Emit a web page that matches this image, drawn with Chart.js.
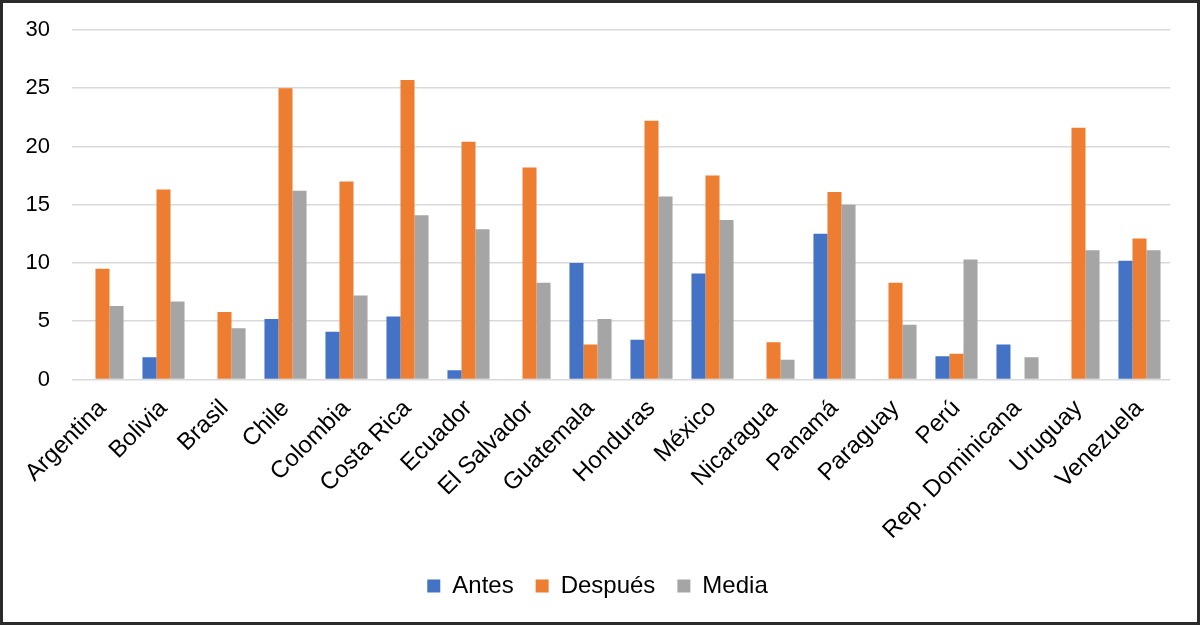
<!DOCTYPE html>
<html>
<head>
<meta charset="utf-8">
<script src="https://cdn.jsdelivr.net/npm/chart.js@4/dist/chart.umd.min.js"></script>
<style>
  html, body { margin: 0; padding: 0; background: #fff; }
  #wrap {
    width: 1200px; height: 625px; box-sizing: border-box;
    border: 3px solid #2b2b2b; background: #fff; position: relative;
  }
  canvas { display: block; }
</style>
</head>
<body>
<div id="wrap"><canvas id="c" width="1194" height="619"></canvas></div>
<script>
// ── DATA ──────────────────────────────────────────────────────
const countries = [
  'Argentina', 'Bolivia', 'Brasil', 'Chile', 'Colombia', 'Costa Rica',
  'Ecuador', 'El Salvador', 'Guatemala', 'Honduras', 'México', 'Nicaragua',
  'Panamá', 'Paraguay', 'Perú', 'Rep. Dominicana', 'Uruguay', 'Venezuela'
];
const antes   = [0, 1.9, 0, 5.2, 4.1, 5.4, 0.8, 0, 10.0, 3.4, 9.1, 0, 12.5, 0, 2.0, 3.0, 0, 10.2];
const despues = [9.5, 16.3, 5.8, 25.0, 17.0, 25.7, 20.4, 18.2, 3.0, 22.2, 17.5, 3.2, 16.1, 8.3, 2.2, 0, 21.6, 12.1];
const media   = [6.3, 6.7, 4.4, 16.2, 7.2, 14.1, 12.9, 8.3, 5.2, 15.7, 13.7, 1.7, 15.0, 4.7, 10.3, 1.9, 11.1, 11.1];
const yTicks  = [0, 5, 10, 15, 20, 25, 30];

// ── STYLE ─────────────────────────────────────────────────────
const font = 'Liberation Sans, Arial, sans-serif';
const gridColor = '#d9d9d9';
const textColor = '#000';
const barOpts = { barPercentage: 1.0, categoryPercentage: 0.69, borderWidth: 0 };

new Chart(document.getElementById('c'), {
  type: 'bar',
  data: {
    labels: countries,
    datasets: [
      { label: 'Antes',   data: antes,   backgroundColor: '#4472c4', ...barOpts },
      { label: 'Después', data: despues, backgroundColor: '#ed7d31', ...barOpts },
      { label: 'Media',   data: media,   backgroundColor: '#a5a5a5', ...barOpts }
    ]
  },
  options: {
    responsive: false,
    animation: false,
    layout: { padding: { left: 22, right: 27, top: 0, bottom: 14 } },
    plugins: {
      tooltip: { enabled: false },
      legend: {
        position: 'bottom',
        labels: {
          color: textColor,
          font: { family: font, size: 24 },
          boxWidth: 13, boxHeight: 13,
          padding: 22
        }
      }
    },
    scales: {
      x: {
        grid: { display: false },
        border: { display: false },
        // rotated first label should not push the plot area right
        afterFit: s => { s.paddingLeft = 0; s.paddingRight = 0; },
        ticks: {
          color: textColor,
          font: { family: font, size: 24 },
          minRotation: 45, maxRotation: 45,
          autoSkip: false,
          padding: 7
        }
      },
      y: {
        min: 0, max: 30,
        afterBuildTicks: s => { s.ticks = yTicks.map(v => ({ value: v })); },
        afterFit: s => { s.width = 47; s.paddingTop = 27; },
        grid: { color: gridColor, lineWidth: 1.5, drawTicks: false },
        border: { display: false },
        ticks: {
          color: textColor,
          font: { family: font, size: 22 },
          padding: 22
        }
      }
    }
  }
});
</script>
</body>
</html>
